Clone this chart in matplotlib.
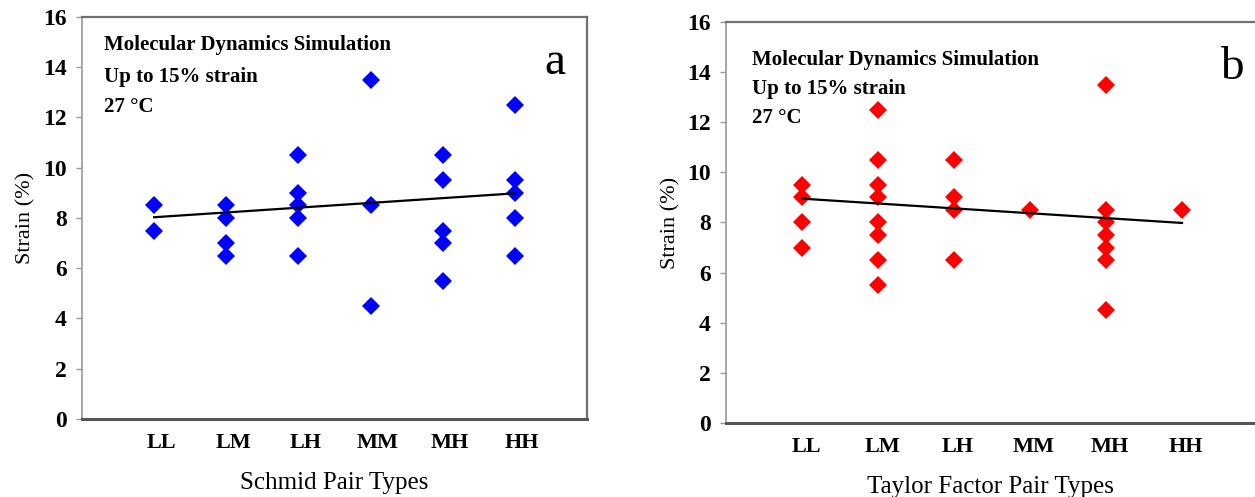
import numpy as np
import matplotlib
matplotlib.use('Agg')
import matplotlib.pyplot as plt
import matplotlib.transforms as mtrans

#category names
pair_types = ['LL', 'LM', 'LH', 'MM', 'MH', 'HH']

#panel a : Schmid pair types, strain values per category
schmid_LL = [8.5, 7.5]
schmid_LM = [8.5, 8.0, 7.0, 6.5]
schmid_LH = [10.5, 9.0, 8.5, 8.0, 6.5]
schmid_MM = [13.5, 8.5, 4.5]
schmid_MH = [10.5, 9.5, 7.5, 7.0, 5.5]
schmid_HH = [12.5, 9.5, 9.0, 8.0, 6.5]
schmid_trend = [8.03, 8.98]     #trend line at LL and HH

#panel b : Taylor factor pair types
taylor_LL = [9.5, 9.0, 8.0, 7.0]
taylor_LM = [12.5, 10.5, 9.5, 9.0, 8.0, 7.5, 6.5, 5.5]
taylor_LH = [10.5, 9.0, 8.5, 6.5]
taylor_MM = [8.5]
taylor_MH = [13.5, 8.5, 8.0, 7.5, 7.0, 6.5, 4.5]
taylor_HH = [8.5]
taylor_trend = [8.95, 7.98]

y_ticks = [0, 2, 4, 6, 8, 10, 12, 14, 16]
notes = ['Molecular Dynamics Simulation', 'Up to 15% strain', '27 \u00b0C']

serif = 'Liberation Serif'
plt.rcParams['font.family'] = serif

fig = plt.figure(figsize=(12.55, 4.97), dpi=100)
ax_a = fig.add_axes([0.0653, 0.157, 0.4024, 0.8088])
ax_b = fig.add_axes([0.5785, 0.149, 0.4215, 0.8068])


def draw_panel(ax, groups, trend, color, xlabel, letter, xmax, note_pos, letter_pos, lab_shift):
    x = np.arange(1, len(pair_types) + 1)
    for xi, vals in zip(x, groups):
        ax.plot([xi] * len(vals), vals, linestyle='none', marker='D',
                markersize=9.2, color=color, markeredgewidth=0)
    ax.plot([x[0], x[-1]], trend, color='black', lw=1.6)

    ax.set_xlim(0, xmax)
    ax.set_ylim(0, 16)
    ax.set_xticks(x)
    ax.set_xticklabels(pair_types, fontsize=16, fontweight='bold')
    ax.set_yticks(y_ticks)
    ax.set_yticklabels([str(t) for t in y_ticks], fontsize=17, fontweight='bold')
    ax.tick_params(axis='x', length=0, pad=10)
    ax.tick_params(axis='y', length=4, width=1, color='#999999', pad=7)
    #Excel puts the category labels a little right of the markers
    shift = mtrans.ScaledTranslation(lab_shift / 100, 0, fig.dpi_scale_trans)
    for lab in ax.get_xticklabels():
        lab.set_transform(lab.get_transform() + shift)

    ax.spines['left'].set_color('#a0a0a0')
    ax.spines['left'].set_linewidth(1.3)
    ax.spines['top'].set_color('#707070')
    ax.spines['top'].set_linewidth(1.6)
    ax.spines['right'].set_color('#707070')
    ax.spines['right'].set_linewidth(1.6)
    ax.spines['bottom'].set_color('#555555')
    ax.spines['bottom'].set_linewidth(2.2)

    ax.set_xlabel(xlabel, fontsize=18, labelpad=14)
    ax.set_ylabel('Strain (%)', fontsize=16, labelpad=5)

    #text block in upper left corner
    for txt, yy in zip(notes, note_pos[1]):
        ax.text(note_pos[0], yy, txt, transform=ax.transAxes, fontsize=15,
                fontweight='bold', va='center', ha='left')
    ax.text(letter_pos[0], letter_pos[1], letter, transform=ax.transAxes,
            fontsize=34, va='center', ha='center')


draw_panel(ax_a, [schmid_LL, schmid_LM, schmid_LH, schmid_MM, schmid_MH, schmid_HH],
           schmid_trend, '#0000ff', 'Schmid Pair Types', 'a', 7.0,
           (0.044, [0.930, 0.851, 0.776]), (0.937, 0.886), 7)
draw_panel(ax_b, [taylor_LL, taylor_LM, taylor_LH, taylor_MM, taylor_MH, taylor_HH],
           taylor_trend, '#ff0000', 'Taylor Factor Pair Types', 'b', 6.96,
           (0.049, [0.905, 0.833, 0.761]), (0.957, 0.885), 4)
ax_b.spines['right'].set_visible(False)

plt.savefig('out.png', dpi=100)
